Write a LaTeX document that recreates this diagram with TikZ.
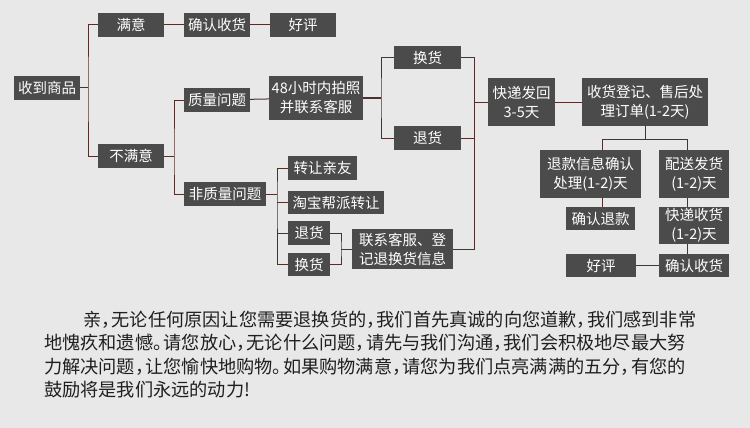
\documentclass[tikz,border=0pt]{standalone}
\usepackage{fontspec}
\newfontfamily\cjk{Noto Sans CJK SC}
\usetikzlibrary{positioning}
\definecolor{bgc}{HTML}{E8E8E8}
\definecolor{boxc}{HTML}{4B4B4B}
\definecolor{linec}{HTML}{4F302C}
% narrow punctuation as in the reference
\newcommand\zcomma{，\kern-8pt}
\newcommand\zstop{。\kern-8pt}

\begin{document}
\begin{tikzpicture}[x=1pt,y=-1pt,
  bx/.style 2 args={fill=boxc,text=white,inner sep=0pt,align=center,
    minimum width=#1,minimum height=#2,font=\cjk\fontsize{14.5}{19}\selectfont},
  link/.style={draw=linec,line width=1pt}]
 \path[use as bounding box,fill=bgc] (0,0) rectangle (750,428);
 %NODES
 \node[bx={66}{24}] (get) at (47,88) {收到商品};
 \node[bx={66}{24}] (ok) at (131,25) {满意};
 \node[bx={66}{24}] (conf1) at (217,25) {确认收货};
 \node[bx={66}{24}] (good1) at (303,25) {好评};
 \node[bx={66}{24}] (notok) at (131,156) {不满意};
 \node[bx={66}{24}] (qual) at (217,100) {质量问题};
 \node[bx={82}{24}] (nonq) at (225,194) {非质量问题};
 \node[bx={94}{44}] (photo) at (316,98) {48小时内拍照\\并联系客服};
 \node[bx={67}{23}] (swap1) at (427.5,57.5) {换货};
 \node[bx={67}{24}] (ret1) at (427.5,138) {退货};
 \node[bx={69}{24}] (gift) at (322.5,168) {转让亲友};
 \node[bx={96}{23}] (tb) at (336,202.5) {淘宝帮派转让};
 \node[bx={42}{24}] (ret2) at (309,233) {退货};
 \node[bx={42}{23}] (swap2) at (309,264.5) {换货};
 \node[bx={101}{40}] (reg) at (402.5,249) {联系客服、登\\记退换货信息};
 \node[bx={67}{48}] (ship) at (521.5,102) {快递发回\\3-5天};
 \node[bx={126}{48}] (proc) at (645,102) {收货登记、售后处\\理订单(1-2天)};
 \node[bx={101}{48}] (refund) at (590.5,174) {退款信息确认\\处理(1-2)天};
 \node[bx={70}{48}] (send) at (694,174) {配送发货\\(1-2)天};
 \node[bx={69}{23}] (conf2) at (600.5,218.5) {确认退款};
 \node[bx={70}{37}] (recv) at (694,225.5) {快递收货\\(1-2)天};
 \node[bx={70}{23}] (conf3) at (694,265.5) {确认收货};
 \node[bx={70}{23}] (good2) at (601,265.5) {好评};
 \node[anchor=west,inner sep=0pt,align=left,text=black!88,
   font=\cjk\fontsize{18.2}{23.6}\selectfont] (note) at (44,354.5)
   {\hspace*{39pt}亲\zcomma 无论任何原因让您需要退换货的\zcomma 我们首先真诚的向您道歉\zcomma 我们感到非常\\
    地愧疚和遗憾\zstop 请您放心\zcomma 无论什么问题\zcomma 请先与我们沟通\zcomma 我们会积极地尽最大努\\
    力解决问题\zcomma 让您愉快地购物\zstop 如果购物满意\zcomma 请您为我们点亮满满的五分\zcomma 有您的\\
    鼓励将是我们永远的动力!};
 %JOINTS
 \coordinate (j1) at (88,88);
 \coordinate (j2) at (174,156);
 \coordinate (j3) at (381,98);
 \coordinate (j4) at (474,102);
 \coordinate (j5) at (277,194);
 \coordinate (j6) at (341,249);
 \coordinate (j7) at (645,139);
 \coordinate (j8) at (602,139);
 \coordinate (j9) at (687,139);
 %EDGES
 \draw[link] (get.east) -- (j1);
 \draw[link] (ok.west) -| (j1) |- (notok.west);
 \draw[link] (ok) -- (conf1);
 \draw[link] (conf1) -- (good1);
 \draw[link] (notok.east) -- (j2);
 \draw[link] (qual.west) -| (j2) |- (nonq.west);
 \draw[link] (qual) -- (photo);
 \draw[link] (photo.east) -- (j3);
 \draw[link] (swap1.west) -| (j3) |- (ret1.west);
 \draw[link] (swap1.east) -| (j4);
 \draw[link] (reg.east) -| (j4);
 \draw[link] (ret1.east) -- (ret1.east -| j4);
 \draw[link] (j4) -- (ship.west);
 \draw[link] (nonq.east) -- (j5);
 \draw[link] (gift.west) -| (j5) |- (swap2.west);
 \draw[link] (tb.west) -- (tb.west -| j5);
 \draw[link] (ret2.west) -- (ret2.west -| j5);
 \draw[link] (ret2.east) -| (j6) |- (swap2.east);
 \draw[link] (j6) -- (reg.west);
 \draw[link] (ship) -- (proc);
 \draw[link] (proc.south) -- (j7);
 \draw[link] (j8) -- (j9);
 \draw[link] (j8) -- (j8 |- refund.north);
 \draw[link] (j9) -- (j9 |- send.north);
 \draw[link] (j8 |- refund.south) -- (j8 |- conf2.north);
 \draw[link] (j9 |- send.south) -- (j9 |- recv.north);
 \draw[link] (j9 |- recv.south) -- (j9 |- conf3.north);
 \draw[link] (good2) -- (conf3);
\end{tikzpicture}
\end{document}
